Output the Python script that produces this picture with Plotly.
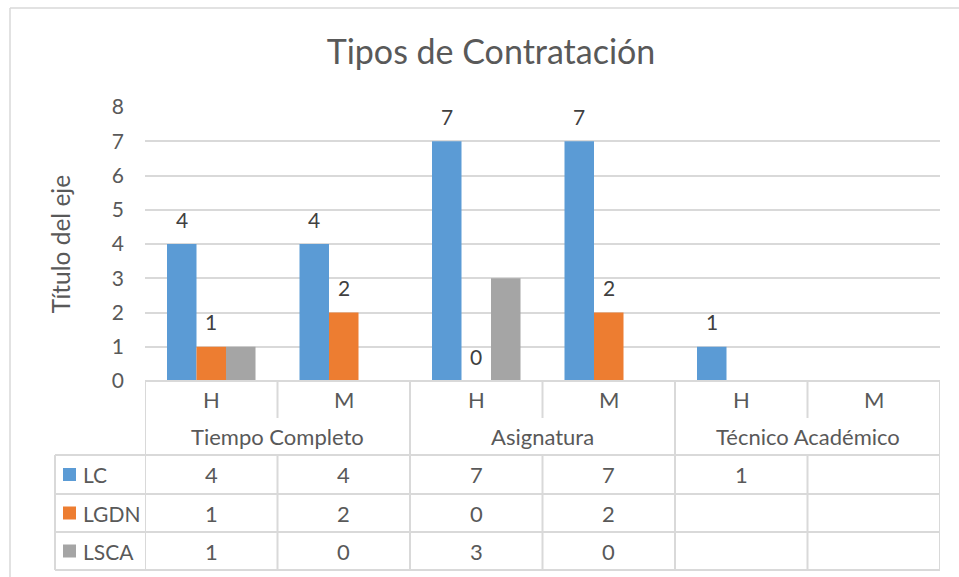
import plotly.graph_objects as go

# ---- data ----
groups = ["Tiempo Completo", "Asignatura", "Técnico Académico"]
subcats = ["H", "M", "H", "M", "H", "M"]
series_names = ["LC", "LGDN", "LSCA"]
lc = [4, 4, 7, 7, 1, None]
lgdn = [1, 2, 0, 2, None, None]
lsca = [1, 0, 3, 0, None, None]
colors = ["#5B9BD5", "#ED7D31", "#A5A5A5"]
show_labels = [True, True, False]
y_ticks = [0, 1, 2, 3, 4, 5, 6, 7, 8]

W, H = 959, 577
L, R, T, B = 145, 19, 107, 196
PW, PH = W - L - R, H - T - B
FONT = "Lato, 'Open Sans', sans-serif"
TXT = "#595959"
LINE = "#D9D9D9"
BARGAP = 0.332

def py(p):  # pixel row -> paper y
    return (H - B - p) / PH

def pxp(p):  # pixel col -> paper x
    return (p - L) / PW

xs = list(range(len(subcats)))
nser = len(series_names)
bw = (1 - BARGAP) / nser
fig = go.Figure()
annotations = []
for k, (name, vals, col, lab) in enumerate(zip(series_names, [lc, lgdn, lsca], colors, show_labels)):
    fig.add_trace(go.Bar(
        x=xs, y=vals, name=name, marker=dict(color=col, line=dict(width=0)),
        showlegend=False, hoverinfo="skip",
    ))
    if lab:
        off = (k - (nser - 1) / 2) * bw
        for i, v in zip(xs, vals):
            if v is not None:
                annotations.append(dict(x=i + off, y=v, xref="x", yref="y", text=str(v), showarrow=False,
                                        yshift=25, xanchor="center", yanchor="middle",
                                        font=dict(size=21, color="#404040", family=FONT)))

shapes = []
line = dict(color=LINE, width=2)
# table rows (pixel boundaries)
r_top, r_sub, r_grp, r1, r2, r3 = 381, 418, 455, 494, 532, 570
leg_left = 55
n = len(subcats)
# horizontal lines
shapes.append(dict(type="line", xref="paper", yref="paper", x0=0, x1=1, y0=py(r_top), y1=py(r_top), line=line))
for r in [r_grp, r1, r2, r3]:
    shapes.append(dict(type="line", xref="paper", yref="paper", x0=pxp(leg_left), x1=1, y0=py(r), y1=py(r), line=line))
# vertical lines
shapes.append(dict(type="line", xref="paper", yref="paper", x0=pxp(leg_left), x1=pxp(leg_left), y0=py(r_grp), y1=py(r3), line=line))
for i in range(n + 1):
    xb = i - 0.5
    if i % 2 == 0:
        shapes.append(dict(type="line", xref="x", yref="paper", x0=xb, x1=xb, y0=py(r_top), y1=py(r3), line=line))
    else:
        shapes.append(dict(type="line", xref="x", yref="paper", x0=xb, x1=xb, y0=py(r_top), y1=py(r_sub), line=line))
        shapes.append(dict(type="line", xref="x", yref="paper", x0=xb, x1=xb, y0=py(r_grp), y1=py(r3), line=line))
# chart border
shapes.append(dict(type="line", xref="paper", yref="paper", x0=pxp(10), x1=pxp(W), y0=py(8), y1=py(8), line=dict(color=LINE, width=1.5)))
shapes.append(dict(type="line", xref="paper", yref="paper", x0=pxp(10), x1=pxp(10), y0=py(8), y1=py(H), line=dict(color=LINE, width=1.5)))

tf = dict(size=22, color=TXT, family=FONT)
for i, s in enumerate(subcats):
    annotations.append(dict(x=i, y=py((r_top + r_sub) / 2), xref="x", yref="paper", text=s, showarrow=False,
                            xanchor="center", yanchor="middle", font=tf))
for g, name in enumerate(groups):
    annotations.append(dict(x=2 * g + 0.5, y=py((r_sub + r_grp) / 2), xref="x", yref="paper", text=name, showarrow=False,
                            xanchor="center", yanchor="middle", font=tf))
rows = [(r_grp, r1), (r1, r2), (r2, r3)]
for (a, b), name, vals, col in zip(rows, series_names, [lc, lgdn, lsca], colors):
    yc = py((a + b) / 2)
    for i, v in enumerate(vals):
        if v is not None:
            annotations.append(dict(x=i, y=yc, xref="x", yref="paper", text=str(v), showarrow=False,
                                    xanchor="center", yanchor="middle", font=tf))
    shapes.append(dict(type="rect", xref="paper", yref="paper", x0=pxp(63), x1=pxp(76), y0=yc - 6.5 / PH, y1=yc + 6.5 / PH,
                       fillcolor=col, line=dict(width=0)))
    annotations.append(dict(x=pxp(81), y=yc, xref="paper", yref="paper", text=name, showarrow=False,
                            xanchor="left", yanchor="middle", font=dict(size=21, color=TXT, family=FONT)))

fig.update_layout(
    width=W, height=H,
    margin=dict(l=L, r=R, t=T, b=B),
    paper_bgcolor="white", plot_bgcolor="white",
    barmode="group", bargap=BARGAP, bargroupgap=0,
    title=dict(text="Tipos de Contratación", x=491 / W, xanchor="center", y=1 - 52 / H, yanchor="middle",
               font=dict(size=34, color=TXT, family=FONT)),
    font=dict(family=FONT, color=TXT),
    shapes=shapes, annotations=annotations,
    xaxis=dict(range=[-0.5, n - 0.5], showticklabels=False, showgrid=False, zeroline=False, showline=False, ticks=""),
    yaxis=dict(range=[0, 8], tickvals=y_ticks, showgrid=True, gridcolor=LINE, gridwidth=2, zeroline=False,
               showline=False, ticks="", tickfont=dict(size=21, color=TXT, family=FONT), ticklabelstandoff=20,
               title=dict(text="Título del eje", font=dict(size=24.5, color=TXT, family=FONT), standoff=34)),
)
fig.write_html("out.html", config={"displayModeBar": False},
               post_script="document.body.style.margin='0';document.body.style.overflow='hidden';")
